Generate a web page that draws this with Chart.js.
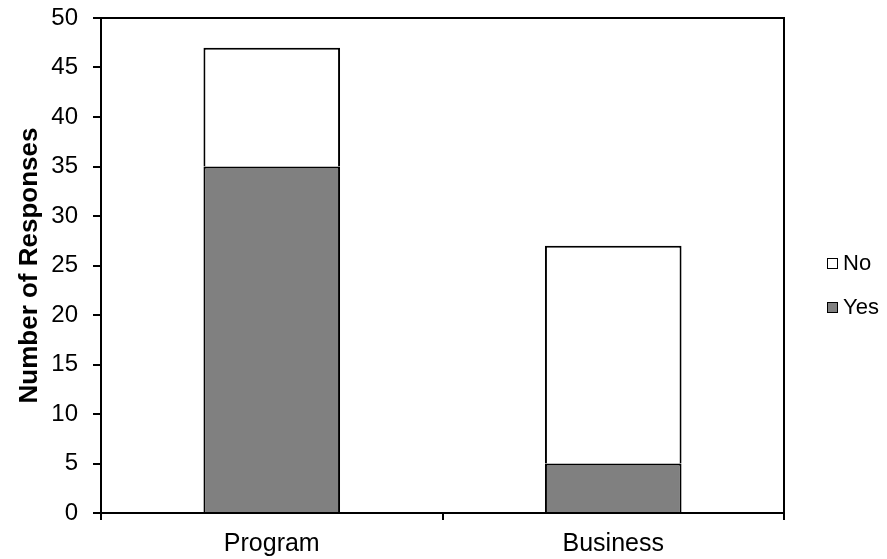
<!DOCTYPE html>
<html>
<head>
<meta charset="utf-8">
<script src="https://cdn.jsdelivr.net/npm/chart.js@4/dist/chart.umd.min.js"></script>
<style>
  html, body { margin: 0; padding: 0; background: #ffffff; }
  #wrap { width: 887px; height: 559px; }
</style>
</head>
<body>
<div id="wrap"><canvas id="c" width="887" height="559"></canvas></div>
<script>
// Survey responses by group
const categories = ['Program', 'Business'];
const yesValues = [35, 5];
const noValues = [12, 22];
const yTicks = [0, 5, 10, 15, 20, 25, 30, 35, 40, 45, 50];

const FONT = '"Liberation Sans", Arial, sans-serif';

// Frame around the plot area (top and right edges included)
const frame = {
  id: 'frame',
  afterDatasetsDraw(chart) {
    const { ctx, chartArea: a } = chart;
    ctx.save();
    ctx.strokeStyle = '#000';
    ctx.lineWidth = 2;
    ctx.strokeRect(Math.round(a.left), Math.round(a.top),
                   Math.round(a.right - a.left), Math.round(a.bottom - a.top));
    ctx.restore();
  }
};

// Legend at the right, listed top-down in stack order (No above Yes)
const sideLegend = {
  id: 'sideLegend',
  afterDraw(chart) {
    const { ctx } = chart;
    const items = chart.data.datasets.slice().reverse();
    const x = 827, y0 = 263, step = 44, box = 10;
    ctx.save();
    ctx.font = '22px ' + FONT;
    ctx.textBaseline = 'middle';
    ctx.textAlign = 'left';
    items.forEach((ds, i) => {
      const y = y0 + i * step;
      const top = Math.round(y - box / 2);
      ctx.fillStyle = ds.backgroundColor;
      ctx.fillRect(x + 0.5, top + 0.5, box, box);
      ctx.strokeStyle = '#000';
      ctx.lineWidth = 1;
      ctx.strokeRect(x + 0.5, top + 0.5, box, box);
      ctx.fillStyle = '#000';
      ctx.fillText(ds.label, x + box + 6, y + 1);
    });
    ctx.restore();
  }
};

new Chart(document.getElementById('c'), {
  type: 'bar',
  data: {
    labels: categories,
    datasets: [
      { label: 'Yes', data: yesValues, backgroundColor: '#808080', borderColor: '#000', borderWidth: 2, borderSkipped: 'start' },
      { label: 'No', data: noValues, backgroundColor: '#ffffff', borderColor: '#000', borderWidth: 2, borderSkipped: 'start' }
    ]
  },
  options: {
    responsive: false,
    animation: false,
    layout: { padding: { top: 18, right: 103, bottom: 0, left: 0 } },
    datasets: { bar: { categoryPercentage: 1.0, barPercentage: 0.4 } },
    plugins: { legend: { display: false }, tooltip: { enabled: false } },
    scales: {
      x: {
        stacked: true,
        offset: true,
        grid: { display: true, offset: true, drawOnChartArea: false, tickLength: 7, lineWidth: 2, color: '#000', tickColor: '#000' },
        border: { display: true, color: '#000', width: 2 },
        ticks: { color: '#000', font: { family: FONT, size: 25 }, padding: 9 },
        afterFit(s) { s.height = 46; s.paddingLeft = 0; s.paddingRight = 0; }
      },
      y: {
        stacked: true,
        min: 0,
        max: 50,
        afterBuildTicks(s) { s.ticks = yTicks.map(v => ({ value: v })); },
        grid: { display: true, drawOnChartArea: false, tickLength: 8, lineWidth: 2, color: '#000', tickColor: '#000' },
        border: { display: true, color: '#000', width: 2 },
        ticks: { color: '#000', font: { family: FONT, size: 24 }, padding: 15 },
        title: { display: true, text: 'Number of Responses', color: '#000', font: { family: FONT, size: 26, weight: 'bold' }, padding: { top: 14, bottom: 0 } },
        afterFit(s) { s.width = 101; s.paddingTop = 0; s.paddingBottom = 0; }
      }
    }
  },
  plugins: [frame, sideLegend]
});
</script>
</body>
</html>
